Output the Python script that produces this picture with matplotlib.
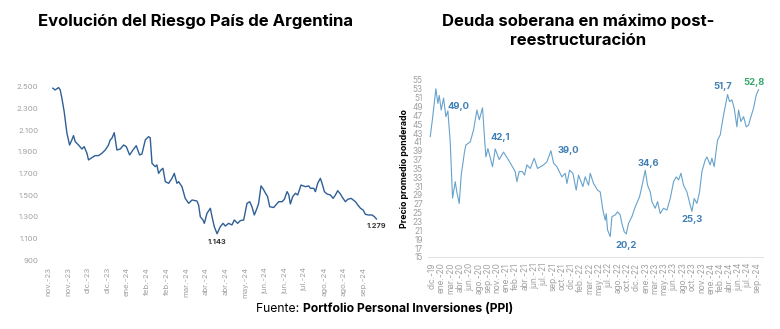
import numpy as np
import matplotlib
matplotlib.use("Agg")
import matplotlib.pyplot as plt

plt.rcParams['font.family'] = ['Inter', 'DejaVu Sans']

# =========================
# DATOS - Riesgo País (días desde 01/11/2023, puntos básicos)
# =========================
rp_dias = [4.7, 7.1, 10.5, 12.2, 13.9, 16.2, 19.0, 21.7, 24.0, 25.7, 27.4, 30.8, 34.2, 36.5,
           39.3, 40.9, 44.3, 47.7, 51.1, 54.5, 57.9, 61.2, 62.9, 64.6, 67.0, 69.7, 73.1, 76.5,
           79.2, 82.6, 86.0, 89.3, 92.7, 95.1, 98.5, 101.8, 103.5, 105.3, 108.6, 110.3, 112.0,
           114.4, 116.4, 118.8, 122.2, 125.6, 127.9, 130.6, 132.3, 135.7, 139.0, 142.5, 145.9,
           150.9, 152.6, 154.3, 157.0, 158.4, 161.1, 164.5, 166.2, 168.5, 171.3, 174.6, 177.4,
           179.7, 183.0, 186.4, 188.8, 192.2, 194.9, 198.3, 201.7, 204.4, 206.7, 209.1, 211.8,
           213.5, 215.9, 218.2, 220.5, 222.6, 224.7, 228.7, 233.8, 237.2, 239.6, 242.3, 244.0,
           245.7, 248.0, 250.8, 253.1, 256.5, 260.9, 264.3, 266.0, 269.4, 271.1, 273.4, 276.1,
           277.8, 280.2, 282.9, 286.3, 289.0, 291.4, 293.7, 296.4, 299.1, 301.5, 303.9, 307.3,
           311.7, 314.1, 316.8, 319.5, 321.8, 325.2, 328.6, 331.0, 333.0]
rp_valores = [2488, 2472, 2494, 2472, 2395, 2272, 2072, 1963, 2010, 2050, 1994, 1963, 1926, 1948,
              1887, 1825, 1846, 1865, 1865, 1887, 1917, 1963, 2010, 2025, 2077, 1917, 1926, 1963,
              1948, 1871, 1917, 1957, 1871, 1880, 2010, 2040, 2030, 1794, 1763, 1779, 1701,
              1732, 1748, 1624, 1609, 1655, 1701, 1609, 1624, 1578, 1470, 1424, 1455,
              1445, 1408, 1300, 1270, 1239, 1332, 1378, 1300, 1208, 1143, 1208, 1239,
              1214, 1239, 1224, 1270, 1239, 1264, 1270, 1424, 1439, 1393, 1316, 1378,
              1424, 1585, 1555, 1517, 1485, 1393, 1385, 1439, 1439, 1461, 1532, 1505,
              1418, 1485, 1517, 1501, 1593, 1578, 1585, 1563, 1563, 1532, 1609, 1655,
              1609, 1532, 1510, 1501, 1470, 1501, 1541, 1510, 1470, 1439, 1461, 1470,
              1439, 1408, 1378, 1362, 1322, 1316, 1316, 1300, 1279]
rp_ticks_labels = ["nov.-23", "nov.-23", "dic.-23", "dic.-23", "ene.-24", "feb.-24", "feb.-24",
                   "mar.-24", "abr.-24", "abr.-24", "may.-24", "jun.-24", "jun.-24", "jul.-24",
                   "ago.-24", "ago.-24", "sep.-24"]
rp_yticks = [900, 1100, 1300, 1500, 1700, 1900, 2100, 2300, 2500]

# =========================
# DATOS - Deuda soberana (meses desde dic-19, precio promedio ponderado)
# =========================
ds_meses = [-0.35, 0.06, 0.64, 0.99, 1.23, 1.58, 1.99, 2.4, 2.75, 3.16, 3.45, 3.57, 4.04, 4.33,
            4.74, 5.09, 5.67, 5.91, 6.67, 7.25, 7.84, 8.25, 8.83, 9.18, 9.42, 9.77, 10.58,
            11.05, 11.75, 12.51, 13.39, 14.56, 14.85, 15.26, 15.82, 16.2, 16.6, 17.2, 17.89,
            18.48, 19.53, 20.12, 20.82, 21.29, 21.87, 22.75, 23.33, 23.63, 24.1, 24.68, 25.26,
            25.67, 26.43, 26.84, 27.43, 27.72, 28.3, 29.0, 29.47, 29.94, 30.35, 30.53, 30.76,
            31.23, 31.52, 32.11, 32.5, 32.98, 33.27, 33.68, 34.04, 34.44, 35.03, 35.61, 36.37,
            36.78, 37.37, 37.78, 38.25, 38.54, 39.12, 39.53, 40.0, 40.58, 41.17, 41.75, 42.34,
            42.81, 43.22, 43.63, 44.09, 44.68, 45.26, 45.56, 45.96, 46.43, 46.9, 47.31, 47.89,
            48.19, 48.77, 49.06, 49.47, 49.82, 50.06, 50.53, 51.0, 51.4, 51.81, 52.16, 52.57,
            52.98, 53.45, 53.74, 54.15, 54.62, 55.09, 55.5, 55.91, 56.37, 56.84, 57.25]
ds_valores = [42.2, 46.3, 53.0, 49.7, 51.5, 48.2, 50.9, 46.7, 48.0, 41.0, 32.0, 28.3, 32.0, 29.6,
              27.1, 33.5, 38.8, 40.3, 41.0, 43.7, 48.2, 46.0, 48.7, 41.8, 37.6, 39.5, 35.4,
              39.4, 37.0, 38.7, 36.9, 34.3, 32.0, 34.3, 34.3, 33.5, 35.8, 35.0, 37.3,
              35.0, 35.8, 36.5, 39.0, 36.2, 35.4, 33.1, 33.9, 31.6, 34.6, 33.9, 30.1,
              33.5, 30.9, 33.1, 31.2, 33.9, 31.6, 30.1, 29.7, 25.6, 23.3, 24.8, 21.1,
              19.6, 24.1, 24.5, 25.2, 24.5, 22.6, 20.7, 20.2, 22.6, 24.1, 26.3, 28.6,
              30.9, 34.6, 31.2, 29.7, 27.5, 26.0, 27.5, 24.8, 26.0, 25.6, 28.2, 32.0,
              33.1, 32.4, 33.9, 31.2, 29.7, 26.7, 25.3, 28.2, 27.1, 29.7, 34.3, 36.9,
              37.6, 35.8, 37.3, 35.4, 39.2, 41.4, 42.6, 46.3, 49.0, 51.7, 50.1, 50.5,
              48.6, 44.4, 48.2, 45.6, 46.7, 44.4, 44.8, 46.7, 48.6, 51.6, 52.8]
ds_ticks_labels = ["dic.-19", "ene.-20", "mar.-20", "abr.-20", "jun.-20", "ago.-20", "sep.-20",
                   "nov.-20", "ene.-21", "feb.-21", "abr.-21", "jun.-21", "jul.-21", "sep.-21",
                   "oct.-21", "dic.-21", "feb.-22", "mar.-22", "may.-22", "jul.-22", "ago.-22",
                   "oct.-22", "dic.-22", "ene.-23", "mar.-23", "may.-23", "jun.-23", "ago.-23",
                   "oct.-23", "nov.-23", "ene.-24", "feb.-24", "abr.-24", "jun.-24", "jul.-24",
                   "sep.-24"]
ds_yticks = list(range(15, 56, 2))

# etiquetas destacadas: texto, valor, mes donde se ubica, desplazamiento vertical (pt)
ds_etiquetas = ["49,0", "42,1", "39,0", "34,6", "20,2", "25,3", "51,7", "52,8"]
ds_etq_valor = [49.0, 42.1, 39.0, 34.6, 20.2, 25.3, 51.7, 52.8]
ds_etq_mes = [4.56, 11.9, 23.9, 37.9, 34.0, 45.6, 50.9, 56.5]
ds_etq_dy = [0, 0, 0, 5, -8, -6, 6, 5]
ds_etq_color = ["#3f7fb5"] * 7 + ["#3aa66e"]

gris = "#a0a0a0"

fig = plt.figure(figsize=(7.8, 3.29), dpi=100)

# =========================
# GRAFICO IZQUIERDO
# =========================
ax1 = fig.add_axes([0.058, 0.2097, 0.436, 0.559])
ax1.plot(rp_dias, rp_valores, color="#2f5f95", lw=1.0)
ax1.set_xlim(-3, 342)
ax1.set_ylim(900, 2600)
ax1.set_yticks(rp_yticks)
ax1.set_yticklabels([f"{v:,}".replace(",", ".") for v in rp_yticks])
ax1.set_xticks(np.arange(len(rp_ticks_labels)) * 20)
ax1.set_xticklabels(rp_ticks_labels, rotation=90)
ax1.tick_params(length=0, labelsize=5.6, colors=gris, pad=5)
for s in ax1.spines.values():
    s.set_visible(False)

i_min = int(np.argmin(rp_valores))
ax1.annotate(f"{rp_valores[i_min]:,}".replace(",", "."), (rp_dias[i_min], rp_valores[i_min]),
             xytext=(0, -6), textcoords="offset points", ha="center", va="center",
             fontsize=5.3, fontweight="bold", color="#333333")
ax1.annotate(f"{rp_valores[-1]:,}".replace(",", "."), (rp_dias[-1], rp_valores[-1]),
             xytext=(0, -5), textcoords="offset points", ha="center", va="center",
             fontsize=5.3, fontweight="bold", color="#333333")

# =========================
# GRAFICO DERECHO
# =========================
ax2 = fig.add_axes([0.549, 0.219, 0.429, 0.538])
ax2.plot(ds_meses, ds_valores, color="#66a2cc", lw=0.8)
ax2.set_xlim(-0.7, 58)
ax2.set_ylim(15, 55)
ax2.set_yticks(ds_yticks)
ax2.set_xticks(np.linspace(0, 57, len(ds_ticks_labels)))
ax2.set_xticklabels(ds_ticks_labels, rotation=90)
ax2.tick_params(length=0, labelsize=6.0, colors=gris, pad=4)
for s in ax2.spines.values():
    s.set_visible(False)
ax2.spines["bottom"].set_visible(True)
ax2.spines["bottom"].set_color("#e4e4e4")
ax2.spines["bottom"].set_linewidth(0.8)
ax2.set_ylabel("Precio promedio ponderado", fontsize=6.3, fontweight="bold", color="black",
               labelpad=2)

for txt, val, mes, dy, col in zip(ds_etiquetas, ds_etq_valor, ds_etq_mes, ds_etq_dy, ds_etq_color):
    ax2.annotate(txt, (mes, val), xytext=(0, dy), textcoords="offset points",
                 ha="center", va="center", fontsize=6.8, fontweight="bold", color=col,
                 annotation_clip=False)

# =========================
# TITULOS Y FUENTE
# =========================
fig.text(195 / 780, 1 - 21 / 329, "Evolución del Riesgo País de Argentina", ha="center",
         va="center", fontsize=12, fontweight="bold")
fig.text(578 / 780, 1 - 31 / 329, "Deuda soberana en máximo post-\nreestructuración",
         ha="center", va="center", fontsize=12, fontweight="bold", linespacing=1.3)

fig.text(303 / 780, 1 - 309 / 329, "Fuente: ", ha="right", va="center", fontsize=8.75)
fig.text(303 / 780, 1 - 309 / 329, "Portfolio Personal Inversiones (PPI)", ha="left",
         va="center", fontsize=8.75, fontweight="bold")

fig.savefig("out.png", dpi=100)
